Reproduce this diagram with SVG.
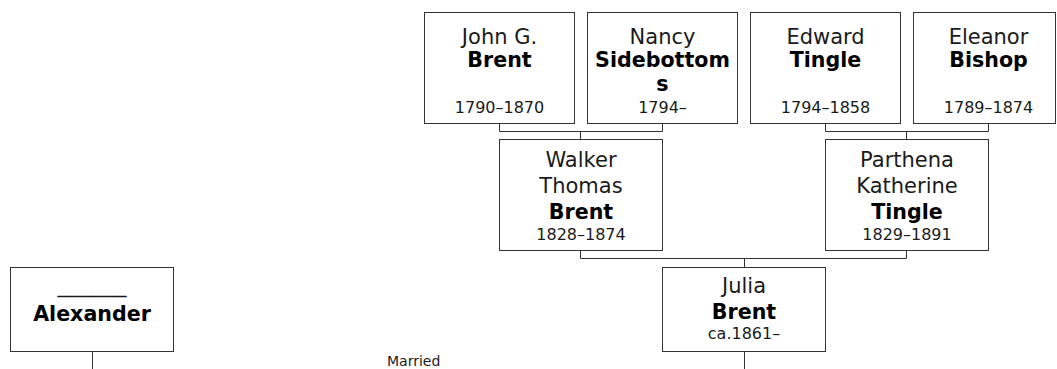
<svg xmlns="http://www.w3.org/2000/svg" width="1057" height="369" viewBox="0 0 1057 369">
<style>
.box{fill:#fff;stroke:#333;stroke-width:1}
.ln{fill:none;stroke:#333;stroke-width:1}
text{font-family:"DejaVu Sans",Verdana,sans-serif;fill:#1a1a1a;text-anchor:middle}
.n{font-size:21px}
.s{font-size:20.6px;font-weight:bold;fill:#000}
.d{font-size:16px}
.m{font-size:14px;text-anchor:start}
</style>
<rect width="1057" height="369" fill="#fff"/>
<g id="connectors">
<path class="ln" d="M499.5 123.5V131.5H662.5V123.5M580.5 131.5V139.5"/>
<path class="ln" d="M825.5 123.5V131.5H988.5V123.5M906.5 131.5V139.5"/>
<path class="ln" d="M580.5 250.5V258.5H906.5V250.5M744.5 258.5V267.5"/>
<path class="ln" d="M92.5 351.5V369M744.5 351.5V369"/>
</g>
<g id="john">
<rect class="box" x="424.5" y="12.5" width="150" height="111"/>
<text class="n" x="499.5" y="44">John G.</text>
<text class="s" x="499.5" y="67">Brent</text>
<text class="d" x="499.5" y="113">1790–1870</text>
</g>
<g id="nancy">
<rect class="box" x="587.5" y="12.5" width="150" height="111"/>
<text class="n" x="662.5" y="44">Nancy</text>
<text class="s" x="662.5" y="67">Sidebottom</text>
<text class="s" x="662.5" y="91">s</text>
<text class="d" x="662.5" y="113">1794–</text>
</g>
<g id="edward">
<rect class="box" x="750.5" y="12.5" width="150" height="111"/>
<text class="n" x="825.5" y="44">Edward</text>
<text class="s" x="825.5" y="67">Tingle</text>
<text class="d" x="825.5" y="113">1794–1858</text>
</g>
<g id="eleanor">
<rect class="box" x="913.5" y="12.5" width="142" height="111"/>
<text class="n" x="988.5" y="44">Eleanor</text>
<text class="s" x="988.5" y="67">Bishop</text>
<text class="d" x="988.5" y="113">1789–1874</text>
</g>
<g id="walker">
<rect class="box" x="499.5" y="139.5" width="163" height="111"/>
<text class="n" x="581" y="167">Walker</text>
<text class="n" x="581" y="193">Thomas</text>
<text class="s" x="581" y="219">Brent</text>
<text class="d" x="581" y="240">1828–1874</text>
</g>
<g id="parthena">
<rect class="box" x="825.5" y="139.5" width="163" height="111"/>
<text class="n" x="907" y="167">Parthena</text>
<text class="n" x="907" y="193">Katherine</text>
<text class="s" x="907" y="219">Tingle</text>
<text class="d" x="907" y="240">1829–1891</text>
</g>
<g id="julia">
<rect class="box" x="662.5" y="267.5" width="163" height="84"/>
<text class="n" x="744" y="293">Julia</text>
<text class="s" x="744" y="319">Brent</text>
<text class="d" x="744" y="339">ca.1861–</text>
</g>
<g id="alexander">
<rect class="box" x="10.5" y="267.5" width="163" height="84"/>
<text class="n" x="92" y="292" textLength="69" lengthAdjust="spacingAndGlyphs">______</text>
<text class="s" x="92" y="321">Alexander</text>
</g>
<g id="married">
<text class="m" x="387" y="366">Married</text>
</g>
</svg>
